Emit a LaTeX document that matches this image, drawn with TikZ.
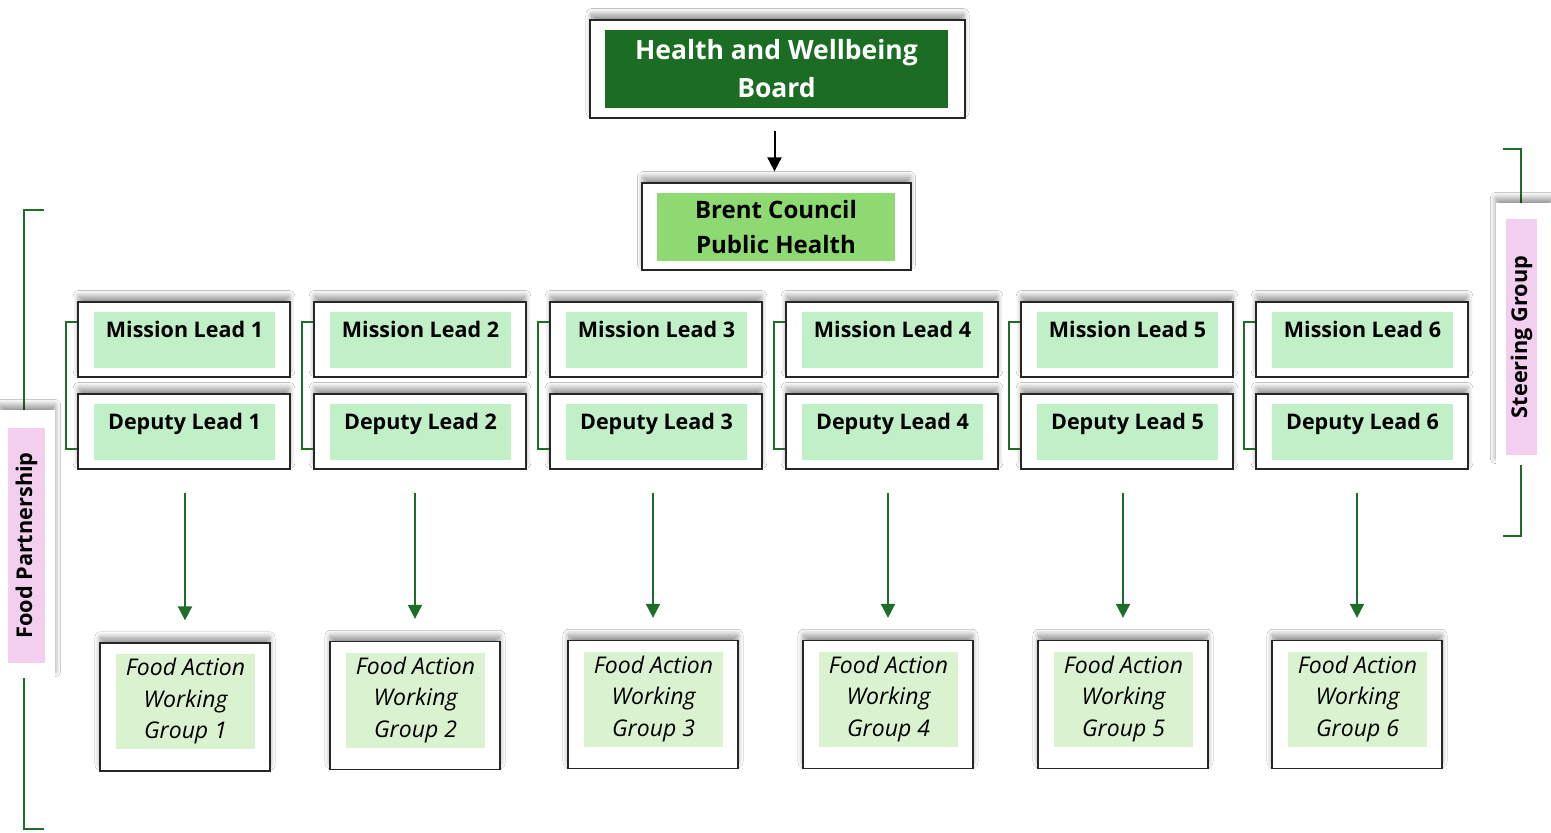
\documentclass[tikz,border=0pt]{standalone}
\usepackage{fontspec}
\setmainfont{Open Sans}
\usetikzlibrary{arrows.meta,shadows.blur}

\definecolor{boardgreen}{HTML}{1B6D24}
\definecolor{councilgreen}{HTML}{8FD973}
\definecolor{leadgreen}{HTML}{C1F0C8}
\definecolor{groupgreen}{HTML}{DAF2D0}
\definecolor{linkgreen}{HTML}{1E6E2A}
\definecolor{labelpink}{HTML}{F2CEEF}

\tikzset{
  softshadow/.style={blur shadow={shadow xshift=0pt, shadow yshift=6pt, shadow blur radius=6pt,
    shadow blur steps=16, shadow opacity=45, shadow scale=0.99}},
  outerbox/.style={draw=black!85, line width=1.3pt, fill=white, inner sep=0pt, softshadow},
  sidebox/.style={fill=white, inner sep=0pt, rotate=90, softshadow},
  boardtext/.style={fill=boardgreen, text=white, inner sep=0pt, align=center,
    font=\fontsize{26.5}{38}\selectfont\bfseries},
  counciltext/.style={fill=councilgreen, inner sep=0pt, align=center,
    font=\fontsize{24}{35}\selectfont\bfseries},
  leadtext/.style={fill=leadgreen, inner sep=0pt, minimum width=181pt, minimum height=56pt,
    text height=16pt, text depth=21pt, font=\fontsize{21.5}{24}\selectfont\bfseries},
  grouptext/.style={fill=groupgreen, inner sep=0pt, minimum width=139pt, minimum height=95pt,
    align=center, font=\fontsize{23}{31.5}\selectfont\itshape},
  sidetext/.style={fill=labelpink, inner sep=0pt, rotate=90,
    font=\fontsize{21.7}{24}\selectfont\bfseries},
  bracket/.style={draw=linkgreen, line width=2.2pt},
  flowarrow/.style={draw=linkgreen, line width=2pt, -{Triangle[width=14pt,length=14pt]}},
  boardarrow/.style={draw=black, line width=2pt, -{Triangle[width=14pt,length=14pt]}}
}

\begin{document}
\begin{tikzpicture}[x=1pt, y=-1pt]
    \useasboundingbox[fill=white] (0,0) rectangle (1551,833);

    % Top of the structure
    \node[outerbox, minimum width=375pt, minimum height=98pt] (hwb) at (777.5,69) {};
    \node[boardtext, minimum width=343pt, minimum height=78pt] (hwbt) at (776.5,69) {Health and Wellbeing\\Board};

    \node[outerbox, minimum width=269pt, minimum height=87pt] (bc) at (776.5,226.5) {};
    \node[counciltext, minimum width=238pt, minimum height=68pt] (bct) at (776,227) {Brent Council\\Public Health};

    \draw[boardarrow, shorten <=12pt, shorten >=11pt] ([xshift=-3pt]hwb.south) -- ([xshift=-2pt]bc.north);

    % Side brackets (drawn first, label boxes sit on top)
    \coordinate (fpT) at (44,210);
    \coordinate (fpB) at (44,829);
    \draw[bracket] (fpT) -- (24,210) -- (24,829) -- (fpB);

    \coordinate (sgT) at (1503,149);
    \coordinate (sgB) at (1503,536);
    \draw[bracket] (sgT) -- (1521,149) -- (1521,536) -- (sgB);

    \node[sidebox, minimum width=268pt, minimum height=55pt] (fp) at (27.5,544) {};
    \node[sidetext, minimum width=235pt, minimum height=37pt] (fpt) at (26.5,545.5) {Food Partnership};

    \node[sidebox, minimum width=262pt, minimum height=56pt] (sg) at (1524,334) {};
    \node[sidetext, minimum width=236pt, minimum height=31pt] (sgt) at (1521.5,337) {Steering Group};

    % Mission leads, deputies and working groups
    \foreach \i/\mx/\fx/\fy in {1/184/185/707, 2/420/415/705.5, 3/656/653/704.5,
                                4/892/888/704.5, 5/1127/1123/704.5, 6/1362/1357/704.5} {
        \node[outerbox, minimum width=212pt, minimum height=75pt] (ml\i) at (\mx,339.5) {};
        \node[leadtext] (ml\i t) at (\mx+0.5,340) {Mission Lead \i};

        \node[outerbox, minimum width=212pt, minimum height=75pt] (dl\i) at (\mx,431.5) {};
        \node[leadtext] (dl\i t) at (\mx+0.5,431.5) {Deputy Lead \i};

        \draw[bracket, line width=2pt] ([yshift=18pt]ml\i.west) -- ++(-11pt,0) |- ([yshift=-17pt]dl\i.west);

        \node[outerbox, minimum width=170pt, minimum height=128pt] (fw\i) at (\fx,\fy) {};
        \node[grouptext] (fw\i t) at (\fx+0.5,\fy-5.5) {Food Action\\Working\\Group \i};

        \draw[flowarrow, shorten <=23pt, shorten >=22pt] (fw\i.north |- dl\i.south) -- (fw\i.north);
    }
\end{tikzpicture}
\end{document}
